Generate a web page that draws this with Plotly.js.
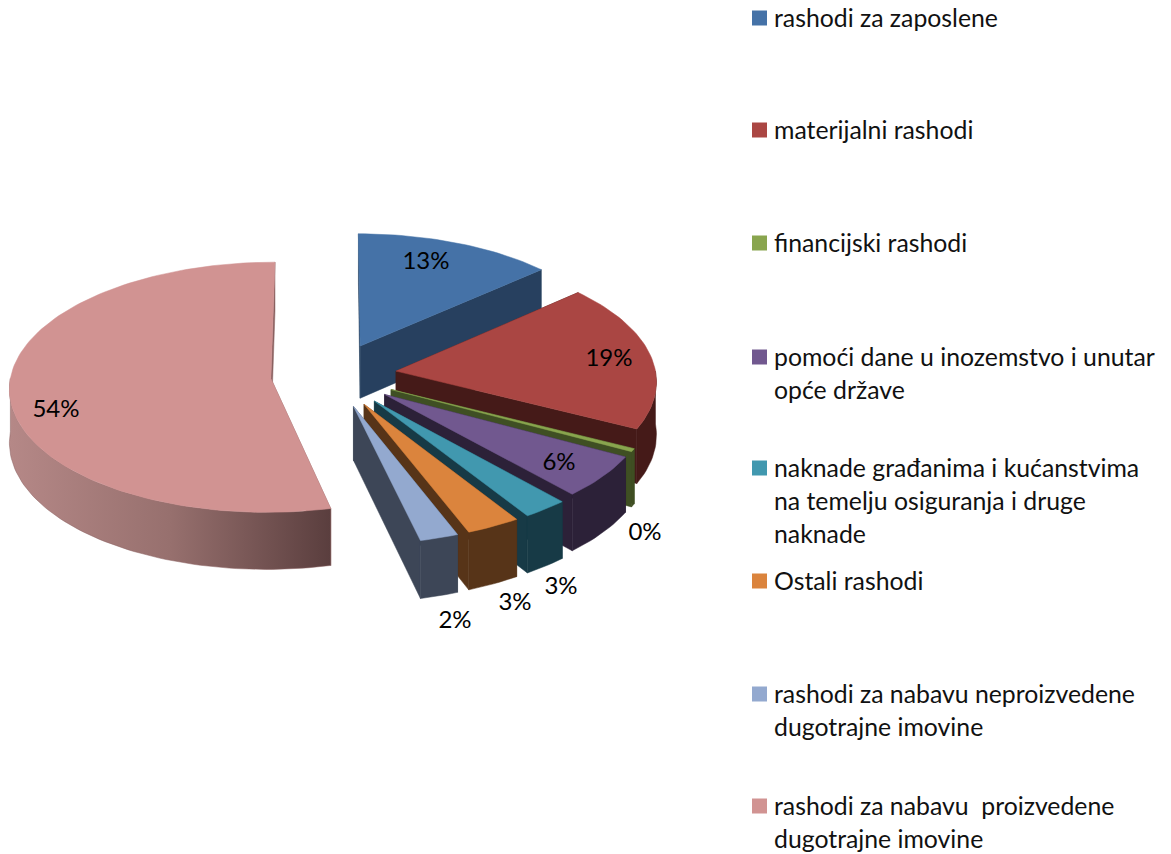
<!DOCTYPE html>
<html><head><meta charset="utf-8">
<script src="https://cdn.plot.ly/plotly-3.0.1.min.js"></script>
<style>html,body{margin:0;padding:0;background:#fff;overflow:hidden}#c{width:1171px;height:854px}</style>
</head><body><div id="c"></div>
<script>
// --- data ---
const categories = [
  "rashodi za zaposlene",
  "materijalni rashodi",
  "financijski rashodi",
  "pomoći dane u inozemstvo i unutar<br>opće države",
  "naknade građanima i kućanstvima<br>na temelju osiguranja i druge<br>naknade",
  "Ostali rashodi",
  "rashodi za nabavu neproizvedene<br>dugotrajne imovine",
  "rashodi za nabavu  proizvedene<br>dugotrajne imovine"
];
const values = [13.4, 19.1, 0.4, 5.5, 2.6, 3.1, 2.2, 53.7];
const explode = [0.26, 0.245, 0.25, 0.25, 0.26, 0.26, 0.26, 0.24];
const topColors = ["#4572A7","#AA4643","#89A54E","#71588F","#4198AF","#DB843D","#93A9CF","#D19392"];
const wallColors = ["#27405F","#451A18","#3F4F23","#2C2138","#173A46","#573418","#3D4657","#8A6160"];

// --- presentation ---
const pie = {cx:333, cy:375, rx:260, ry:124, depth:53, k:0.07};
const labelPos = [[426,263],[609,360],[645,534],[559,464],[561,588],[515,604],[455,622],[56,411]];
const legendY = [17,129,242,356,467,580,693,805];
const legendLineGap = 33;
const legendFont = {family:"Lato, Carlito, sans-serif", size:24.8, color:"#111"};

const total = values.reduce((a,b)=>a+b,0);
const rad = d => d*Math.PI/180;
function project(X,T,down){
  const s = 1/(1-pie.k*T);
  return [pie.cx+pie.rx*X*s, pie.cy+pie.ry*T*s+(down?pie.depth*s:0)];
}
function poly(points,color,extra){
  return Object.assign({
    type:'scatter',mode:'lines',x:points.map(p=>p[0]),y:points.map(p=>p[1]),
    fill:'toself',fillcolor:color,line:{width:0.5,color:color},
    hoverinfo:'skip',showlegend:false
  },extra||{});
}
const traces=[];
let cum=0;
values.forEach((v,i)=>{
  const a0=cum/total*360, a1=(cum+v)/total*360, mid=(a0+a1)/2; cum+=v;
  const aX=explode[i]*Math.sin(rad(mid)), aT=-explode[i]*Math.cos(rad(mid));
  const rim=a=>[aX+Math.sin(rad(a)), aT-Math.cos(rad(a))];
  const arc=(from,to,down)=>{
    const n=Math.max(2,Math.ceil(Math.abs(to-from)/1.5)),out=[];
    for(let j=0;j<=n;j++){const r=rim(from+(to-from)*j/n);out.push(project(r[0],r[1],down));}
    return out;
  };
  const apexTop=project(aX,aT,false), apexBot=project(aX,aT,true);
  [a0,a1].forEach(a=>{
    const r=rim(a);
    traces.push(poly([apexTop,project(r[0],r[1],false),project(r[0],r[1],true),apexBot,apexTop],wallColors[i]));
  });
  const f0=Math.max(a0,90), f1=Math.min(a1,270);
  if(f1>f0){
    const pts=arc(f0,f1,false).concat(arc(f1,f0,true));
    pts.push(pts[0]);
    const extra = i===7 ? {fillgradient:{type:'horizontal',colorscale:[[0,'#B58887'],[0.5,'#97706E'],[1,'#5A3E3E']]}} : {};
    traces.push(poly(pts,wallColors[i],extra));
  }
  const top=[apexTop].concat(arc(a0,a1,false)); top.push(apexTop);
  traces.push(poly(top,topColors[i]));
});

// percentage labels
traces.push({type:'scatter',mode:'text',
  x:labelPos.map(p=>p[0]),y:labelPos.map(p=>p[1]),
  text:values.map(v=>Math.round(v/total*100)+'%'),
  textposition:'middle center',textfont:{family:"Lato, Carlito, sans-serif",size:24,color:"#000"},
  hoverinfo:'skip',showlegend:false});
// legend swatches
traces.push({type:'scatter',mode:'markers',
  x:categories.map(()=>759.5),y:legendY.map(y=>y+1),
  marker:{symbol:'square',size:15,color:topColors,line:{width:0}},
  hoverinfo:'skip',showlegend:false});

const annotations=[];
categories.forEach((c,i)=>{
  c.split('<br>').forEach((line,j)=>{
    annotations.push({x:773,y:legendY[i]+j*legendLineGap,xref:'x',yref:'y',text:line,showarrow:false,
      xanchor:'left',yanchor:'middle',align:'left',font:legendFont,borderpad:0});
  });
});

const hiddenAxis={visible:false,fixedrange:true,showgrid:false,zeroline:false};
Plotly.newPlot('c',traces,{
  width:1171,height:854,margin:{l:0,r:0,t:0,b:0},
  paper_bgcolor:'#fff',plot_bgcolor:'#fff',showlegend:false,
  xaxis:Object.assign({range:[0,1171]},hiddenAxis),
  yaxis:Object.assign({range:[854,0]},hiddenAxis),
  annotations:annotations
},{displayModeBar:false,staticPlot:true});
</script></body></html>
